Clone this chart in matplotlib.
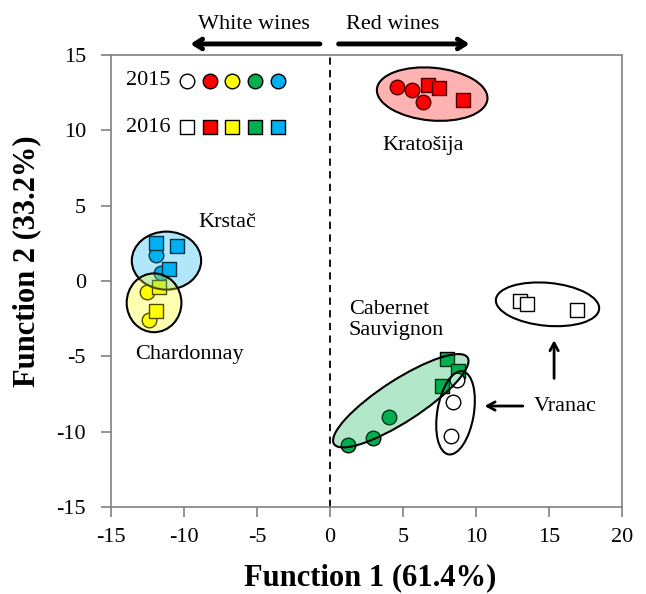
import matplotlib
matplotlib.use('Agg')
import matplotlib.pyplot as plt
from matplotlib.patches import Ellipse

plt.rcParams['font.family'] = ['Liberation Serif', 'DejaVu Serif']
plt.rcParams['axes.unicode_minus'] = False

# Discriminant scores (Function 1, Function 2)
kra_15_x = [4.6, 5.6, 6.4]
kra_15_y = [12.9, 12.7, 11.9]
kra_16_x = [6.7, 7.5, 9.1]
kra_16_y = [13.0, 12.8, 12.0]

krs_15_x = [-11.9, -11.6]
krs_15_y = [1.7, 0.5]
krs_16_x = [-11.9, -10.5, -11.0]
krs_16_y = [2.5, 2.3, 0.8]

cha_15_x = [-12.5, -12.4]
cha_15_y = [-0.7, -2.6]
cha_16_x = [-11.7, -11.9]
cha_16_y = [-0.4, -2.0]

cab_15_x = [1.25, 2.95, 4.05]
cab_15_y = [-10.9, -10.4, -9.0]
cab_16_x = [8.0, 8.8, 7.7]
cab_16_y = [-5.2, -6.0, -7.0]

vra_15_x = [8.7, 8.4, 8.3]
vra_15_y = [-6.6, -8.0, -10.3]
vra_16_x = [13.0, 13.5, 16.9]
vra_16_y = [-1.3, -1.5, -1.9]

red = '#FF0000'
yellow = '#FFFF00'
green = '#00B050'
blue = '#00B0F0'
legend_colors = ['white', red, yellow, green, blue]

fig = plt.figure(figsize=(6.46, 5.94), dpi=100)
ax = fig.add_axes([0.1718, 0.1465, 0.791, 0.761])

ms = 110
groups = [
    (kra_15_x, kra_15_y, kra_16_x, kra_16_y, red),
    (krs_15_x, krs_15_y, krs_16_x, krs_16_y, blue),
    (cha_15_x, cha_15_y, cha_16_x, cha_16_y, yellow),
    (cab_15_x, cab_15_y, cab_16_x, cab_16_y, green),
    (vra_15_x, vra_15_y, vra_16_x, vra_16_y, 'white'),
]
for x15, y15, x16, y16, c in groups:
    ax.scatter(x15, y15, s=ms, marker='o', c=c, edgecolors='black', linewidths=1, zorder=3)
    ax.scatter(x16, y16, s=ms, marker='s', c=c, edgecolors='black', linewidths=1, zorder=3)

# group ellipses (semi-transparent fill)
ellipses = [
    ((7.0, 12.4), 7.6, 3.5, -5, (1, 0, 0, 0.3)),
    ((-11.2, 1.35), 4.75, 3.85, 0, (0, 0.69, 0.94, 0.3)),
    ((-12.05, -1.45), 3.75, 3.9, 0, (1, 1, 0, 0.3)),
    ((4.85, -7.95), 10.8, 2.8, 32, (0, 0.69, 0.31, 0.3)),
    ((8.6, -8.75), 5.6, 2.5, 80, (1, 1, 1, 0)),
    ((14.9, -1.55), 7.1, 2.85, -5, (1, 1, 1, 0)),
]
for xy, w, h, ang, fc in ellipses:
    ax.add_patch(Ellipse(xy, w, h, angle=ang, facecolor=fc, edgecolor='black',
                         linewidth=1.5, zorder=4))

# year legend inside the plot
for i, c in enumerate(legend_colors):
    lx = -9.8 + i * 1.56
    ax.scatter([lx], [13.3], s=ms, marker='o', c=c, edgecolors='black', linewidths=1, zorder=3)
    ax.scatter([lx], [10.2], s=ms, marker='s', c=c, edgecolors='black', linewidths=1, zorder=3)
ax.text(-10.9, 13.3, '2015', fontsize=16, ha='right', va='center')
ax.text(-10.9, 10.2, '2016', fontsize=16, ha='right', va='center')

# cultivar labels
ax.text(6.4, 9.0, 'Kratošija', fontsize=16, ha='center', va='center')
ax.text(-7.0, 3.85, 'Krstač', fontsize=16, ha='center', va='center')
ax.text(-9.6, -4.9, 'Chardonnay', fontsize=16, ha='center', va='center')
ax.text(1.3, -2.6, 'Cabernet\nSauvignon', fontsize=16, ha='left', va='center',
        linespacing=1.1)
ax.text(13.95, -8.3, 'Vranac', fontsize=16, ha='left', va='center')

arr = dict(arrowstyle='->,head_length=0.55,head_width=0.3', color='black', lw=2)
ax.annotate('', xy=(10.4, -8.3), xytext=(13.4, -8.3), arrowprops=arr)
ax.annotate('', xy=(15.35, -3.75), xytext=(15.35, -6.65), arrowprops=arr)

# white / red wine arrows above the axes
big = dict(arrowstyle='->,head_length=0.55,head_width=0.35', color='black', lw=3.5)
ax.annotate('', xy=(-9.75, 15.73), xytext=(-0.5, 15.73), arrowprops=big, annotation_clip=False)
ax.annotate('', xy=(9.75, 15.73), xytext=(0.4, 15.73), arrowprops=big, annotation_clip=False)
ax.text(-5.2, 17.05, 'White wines', fontsize=16, ha='center', va='center', clip_on=False)
ax.text(4.3, 17.05, 'Red wines', fontsize=16, ha='center', va='center', clip_on=False)

ax.axvline(0, color='black', linestyle=(0, (4, 3)), lw=1.3, zorder=1)

ax.set_xlim(-15, 20)
ax.set_ylim(-15, 15)
ax.set_xticks(range(-15, 21, 5))
ax.set_yticks(range(-15, 16, 5))
for s in ax.spines.values():
    s.set_color('#808080')
    s.set_linewidth(1.2)
ax.tick_params(direction='out', length=7, width=1.2, color='#808080', labelsize=16)
ax.tick_params(axis='x', pad=8)
ax.tick_params(axis='y', pad=11)

ax.set_xlabel('Function 1 (61.4%)', fontsize=22, fontweight='bold')
ax.set_ylabel('Function 2 (33.2%)', fontsize=22, fontweight='bold')
ax.xaxis.set_label_coords(0.507, -0.157)
ax.yaxis.set_label_coords(-0.164, 0.544)
ax.xaxis.label.set_va('center')
ax.yaxis.label.set_va('center')

fig.savefig('out.png', dpi=100)
